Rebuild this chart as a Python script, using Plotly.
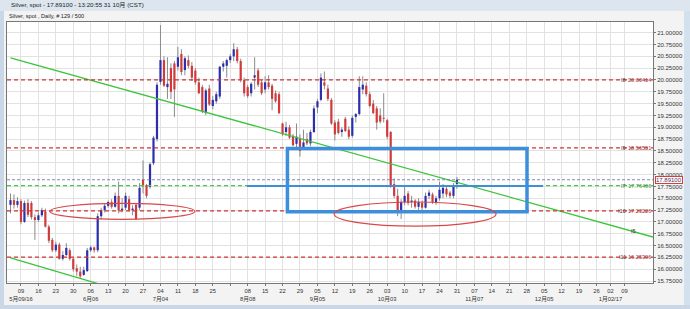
import plotly.graph_objects as go
import pandas as pd

# ---------------- data ----------------
trade_days = pd.bdate_range("2016-05-04", "2016-10-31")  # 129 daily bars

open_ = [17.36,17.46,17.36,17.44,17.00,17.40,17.40,17.10,17.04,17.14,
         17.22,16.90,16.62,16.40,16.52,16.22,16.30,16.40,16.22,16.02,
         15.95,15.88,15.96,16.40,16.46,16.40,17.12,17.25,17.34,17.42,
         17.32,17.55,17.25,17.30,17.48,17.25,17.36,17.30,17.89,17.78,
         17.74,18.24,18.75,19.96,20.42,19.85,20.25,20.35,20.28,20.55,
         20.21,20.42,20.30,20.20,19.95,19.85,19.30,19.82,19.45,19.55,
         19.65,20.28,20.30,20.42,20.50,20.65,20.40,20.00,19.85,19.72,
         20.05,20.20,19.95,19.80,19.95,19.88,19.72,19.70,19.08,18.90,
         19.00,18.82,18.65,18.75,18.55,18.75,18.66,18.90,19.42,19.58,
         19.95,19.82,19.58,19.10,19.12,18.90,19.18,18.95,18.82,19.22,
         19.28,19.80,19.88,19.70,19.50,19.40,19.25,19.20,19.15,18.90,
         17.80,17.55,17.25,17.42,17.60,17.42,17.45,17.32,17.40,17.30,
         17.55,17.58,17.40,17.50,17.60,17.70,17.62,17.55,17.80]
high = [17.60,17.58,17.52,17.48,17.45,17.48,17.44,17.16,17.20,17.30,
        17.28,16.94,16.66,16.58,16.56,16.38,16.55,16.44,16.24,16.10,
        16.05,16.05,16.45,16.50,16.48,17.18,17.30,17.38,17.45,17.48,
        17.62,17.85,17.50,17.62,17.55,17.35,17.40,17.82,18.30,17.80,
        18.26,18.82,19.95,21.16,20.50,20.48,20.35,20.40,20.70,20.65,
        20.50,20.52,20.38,20.25,20.05,19.90,19.82,19.90,19.66,19.75,
        20.30,20.40,20.45,20.55,20.78,20.70,20.45,20.05,19.90,19.95,
        20.48,20.25,20.00,20.08,20.10,19.92,19.78,19.75,19.10,19.12,
        19.05,18.86,19.08,18.85,18.95,18.88,18.95,19.46,19.60,20.14,
        20.18,19.90,19.62,19.15,19.18,19.00,19.22,19.02,19.25,19.30,
        20.08,20.08,19.95,19.75,19.58,19.45,19.40,19.72,19.18,18.92,
        17.92,17.70,17.48,17.75,17.65,17.55,17.48,17.50,17.45,17.62,
        17.68,17.62,17.55,17.85,17.80,17.78,17.66,17.82,17.95]
low = [17.18,17.28,17.30,16.95,16.98,17.10,17.05,16.62,17.00,17.10,
       16.88,16.55,16.36,16.36,16.20,16.18,16.28,16.18,15.95,15.86,
       15.81,15.86,15.94,16.36,16.35,16.36,17.05,17.20,17.30,17.28,
       17.30,17.18,17.20,17.25,17.22,17.14,17.04,17.25,17.60,17.50,
       17.70,18.20,18.70,19.90,19.85,19.60,19.60,19.22,20.20,20.10,
       20.10,20.25,19.98,19.90,19.70,19.30,19.26,19.45,19.38,19.50,
       19.60,20.18,20.05,20.36,20.40,20.35,19.95,19.65,19.62,19.65,
       19.80,19.85,19.68,19.72,19.80,19.36,19.52,19.28,18.82,18.82,
       18.75,18.60,18.58,18.38,18.52,18.62,18.60,18.88,19.30,19.55,
       19.80,19.55,19.05,18.72,18.85,18.80,18.90,18.75,18.78,19.10,
       19.25,19.70,19.65,19.42,19.28,18.95,19.08,19.10,18.75,17.72,
       17.50,17.12,17.06,17.35,17.35,17.30,17.28,17.25,17.22,17.28,
       17.48,17.38,17.36,17.45,17.50,17.52,17.50,17.50,17.70]
close = [17.46,17.36,17.44,17.00,17.40,17.15,17.10,17.04,17.14,17.25,
         16.90,16.60,16.40,16.52,16.22,16.30,16.45,16.22,16.00,15.95,
         15.85,15.98,16.40,16.46,16.40,17.12,17.25,17.34,17.42,17.32,
         17.55,17.25,17.28,17.55,17.25,17.28,17.06,17.72,17.75,17.55,
         18.22,18.78,19.90,20.42,19.88,19.92,19.75,19.80,20.48,20.17,
         20.46,20.30,20.05,19.95,19.72,19.34,19.78,19.48,19.58,19.70,
         20.28,20.35,20.42,20.50,20.65,20.40,20.00,19.72,19.66,19.92,
         20.10,19.90,19.72,19.95,19.85,19.60,19.55,19.30,18.85,19.00,
         18.78,18.62,18.80,18.50,18.68,18.66,18.90,19.40,19.55,20.05,
         19.88,19.60,19.08,18.85,18.88,18.95,18.92,18.80,19.20,19.28,
         19.85,19.90,19.70,19.45,19.30,19.10,19.12,19.18,18.80,17.78,
         17.55,17.25,17.42,17.55,17.40,17.45,17.32,17.42,17.30,17.55,
         17.62,17.42,17.50,17.68,17.72,17.58,17.55,17.78,17.891]

# horizontal levels (tag, price)
red_levels = [("I8", 20.00414), ("I9", 18.56551), ("I10", 17.23226), ("I11", 16.25306)]
green_level = ("I7", 17.76466)
last_price = 17.89100

# trend lines (date, price)
trend_upper = [("2016-05-04", 20.47), ("2017-01-19 05:00", 16.68)]
trend_lower = [("2016-05-04", 16.24), ("2016-06-21", 15.50)]

# x tick labels (weekly Mondays); month labels on second line
tick_days = ["2016-05-09","2016-05-16","2016-05-23","2016-05-30","2016-06-06","2016-06-13",
             "2016-06-20","2016-06-27","2016-07-04","2016-07-11","2016-07-18","2016-07-25",
             "2016-08-01","2016-08-08","2016-08-15","2016-08-22","2016-08-29","2016-09-05",
             "2016-09-12","2016-09-19","2016-09-26","2016-10-03","2016-10-10","2016-10-17",
             "2016-10-24","2016-10-31","2016-11-07","2016-11-14","2016-11-21","2016-11-28",
             "2016-12-05","2016-12-12","2016-12-19","2016-12-27","2017-01-03","2017-01-09"]
tick_day_text = ["09","16","23","30","06","13","20","27","04","11","18","25",
                 "","08","15","22","29","05","12","19","26","03","10","17",
                 "24","31","07","14","21","28","05","12","19","26","02","09"]
month_text = {"2016-05-09": "5月09/16", "2016-06-06": "6月06", "2016-07-04": "7月04",
              "2016-08-08": "8月08", "2016-09-05": "9月05", "2016-10-03": "10月03",
              "2016-11-07": "11月07", "2016-12-05": "12月05", "2017-01-03": "1月02/17"}
holidays = ["2016-12-26", "2017-01-02"]

# ---------------- figure ----------------
W, H = 690, 309
ML, MR, MT, MB = 7, 37, 22, 26
PW, PH = W - ML - MR, H - MT - MB
FONT = "Liberation Sans, Arial, Noto Sans CJK SC, sans-serif"

def px(x):
    return (x - ML) / PW

def py(y):
    return (H - MB - y) / PH

wx, wy = [], []
ux, uy, dx, dy = [], [], [], []
for d, o, h, l, c in zip(trade_days, open_, high, low, close):
    wx += [d, d, None]
    wy += [l, h, None]
    if c >= o:
        ux += [d, d, None]; uy += [o, c, None]
    else:
        dx += [d, d, None]; dy += [o, c, None]

fig = go.Figure()
fig.add_trace(go.Scatter(x=wx, y=wy, mode="lines", line=dict(color="#8a8a8a", width=1),
                         hoverinfo="skip", showlegend=False))
fig.add_trace(go.Scatter(x=ux, y=uy, mode="lines", line=dict(color="#2b2fae", width=2.2),
                         hoverinfo="skip", showlegend=False))
fig.add_trace(go.Scatter(x=dx, y=dy, mode="lines", line=dict(color="#d23a3a", width=2.2),
                         hoverinfo="skip", showlegend=False))
# trend lines
for tl in (trend_upper, trend_lower):
    fig.add_trace(go.Scatter(x=[p[0] for p in tl], y=[p[1] for p in tl], mode="lines",
                             line=dict(color="#3cc43c", width=1.3), hoverinfo="skip",
                             showlegend=False))

shapes = []
# window chrome
shapes.append(dict(type="rect", xref="paper", yref="paper", x0=px(0), x1=px(W), y0=py(11), y1=py(0),
                   fillcolor="#dde6ef", line=dict(width=0), layer="below"))
shapes.append(dict(type="rect", xref="paper", yref="paper", x0=px(0), x1=px(4), y0=py(H), y1=py(11),
                   fillcolor="#c9d7e6", line=dict(width=0), layer="below"))
shapes.append(dict(type="rect", xref="paper", yref="paper", x0=px(684), x1=px(W), y0=py(H), y1=py(11),
                   fillcolor="#d3e0ee", line=dict(width=0), layer="below"))
shapes.append(dict(type="rect", xref="paper", yref="paper", x0=px(0), x1=px(W), y0=py(H), y1=py(305),
                   fillcolor="#c9d7e6", line=dict(width=0), layer="below"))

# horizontal levels
for tag, v in red_levels:
    shapes.append(dict(type="line", xref="x domain", yref="y", x0=0, x1=1, y0=v, y1=v,
                       line=dict(color="#d03434", width=1.3, dash="4px,3px")))
shapes.append(dict(type="line", xref="x domain", yref="y", x0=0, x1=1, y0=green_level[1],
                   y1=green_level[1], line=dict(color="#4cc84c", width=1.3, dash="4px,3px")))
shapes.append(dict(type="line", xref="x domain", yref="y", x0=0, x1=1, y0=last_price, y1=last_price,
                   line=dict(color="#6a6aa8", width=0.8, dash="3px,2px")))
# blue box and line
shapes.append(dict(type="rect", xref="x", yref="y", x0="2016-08-23 09:36", x1="2016-11-28 02:00",
                   y0=17.215, y1=18.55, line=dict(color="#3d8fdc", width=3.5)))
shapes.append(dict(type="line", xref="x", yref="y", x0="2016-08-05 19:00", x1="2016-12-02 17:00",
                   y0=17.759, y1=17.759, line=dict(color="#3d8fdc", width=2)))
# ellipses
shapes.append(dict(type="circle", xref="x", yref="y", x0="2016-05-19 07:00", x1="2016-07-15 21:00",
                   y0=17.055, y1=17.39, line=dict(color="#d84848", width=1.2)))
shapes.append(dict(type="circle", xref="x", yref="y", x0="2016-09-09 19:00", x1="2016-11-15 05:00",
                   y0=16.91, y1=17.42, line=dict(color="#d84848", width=1.2)))

ann = []
ann.append(dict(xref="paper", yref="paper", x=px(9), y=py(5.5), xanchor="left", yanchor="middle",
                text="Silver, spot - 17.89100 - 13:20:55 31 10月 (CST)", showarrow=False,
                font=dict(size=6.2, color="#222", family=FONT)))
ann.append(dict(xref="paper", yref="paper", x=px(7), y=py(16), xanchor="left", yanchor="middle",
                text="Silver, spot , Daily, # 129 / 500", showarrow=False,
                font=dict(size=5.6, color="#222", family=FONT)))
for tag, v in red_levels:
    ann.append(dict(xref="x domain", yref="y", x=1, y=v, xanchor="right", yanchor="middle",
                    text=f"{v:.5f}", showarrow=False, font=dict(size=5.6, color="#a33a3a", family=FONT)))
    ann.append(dict(xref="x domain", yref="y", x=1, y=v, xanchor="right", yanchor="middle", xshift=-25,
                    text=tag, showarrow=False, font=dict(size=5.6, color="#553333", family=FONT)))
ann.append(dict(xref="x domain", yref="y", x=1, y=green_level[1], xanchor="right", yanchor="middle",
                text=f"{green_level[1]:.5f}", showarrow=False, font=dict(size=5.6, color="#3a9a3a", family=FONT)))
ann.append(dict(xref="x domain", yref="y", x=1, y=green_level[1], xanchor="right", yanchor="middle", xshift=-25,
                text=green_level[0], showarrow=False, font=dict(size=5.6, color="#335533", family=FONT)))
ann.append(dict(xref="x", yref="y", x="2017-01-11 12:00", y=16.81, xanchor="center", yanchor="middle",
                text="I5", showarrow=False, font=dict(size=5.6, color="#333", family=FONT)))
ann.append(dict(xref="x domain", yref="y", x=1, y=last_price, xanchor="left", yanchor="middle", xshift=2,
                text=f"{last_price:.5f}", showarrow=False, bgcolor="white", bordercolor="#d04040",
                borderwidth=1, borderpad=0, font=dict(size=6, color="#5a2a5a", family=FONT)))

ticktext = [t + ("<br>" + month_text[d] if d in month_text else "") for d, t in zip(tick_days, tick_day_text)]

fig.update_layout(
    width=W, height=H, margin=dict(l=ML, r=MR, t=MT, b=MB),
    paper_bgcolor="#f3f3f3", plot_bgcolor="white",
    shapes=shapes, annotations=ann, showlegend=False,
    font=dict(family=FONT, size=6, color="#333"),
)
fig.update_xaxes(
    type="date", range=["2016-05-03", "2017-01-19 05:00"],
    rangebreaks=[dict(bounds=["sat", "mon"]), dict(values=holidays)],
    tickmode="array", tickvals=tick_days, ticktext=ticktext, tickangle=0,
    showgrid=True, gridcolor="#e2e2e2", gridwidth=1,
    showline=True, linecolor="#777", linewidth=1, mirror=True,
    ticks="outside", ticklen=2, tickcolor="#777",
    tickfont=dict(size=5.8, color="#333", family=FONT), zeroline=False,
)
fig.update_yaxes(
    side="right", range=[15.708, 21.226], tick0=15.75, dtick=0.25, tickformat=".5f",
    showgrid=True, gridcolor="#e2e2e2", gridwidth=1,
    showline=True, linecolor="#777", linewidth=1, mirror=True,
    ticks="outside", ticklen=2, tickcolor="#777",
    tickfont=dict(size=6, color="#333", family=FONT), zeroline=False,
)

fig.write_html("out.html")
